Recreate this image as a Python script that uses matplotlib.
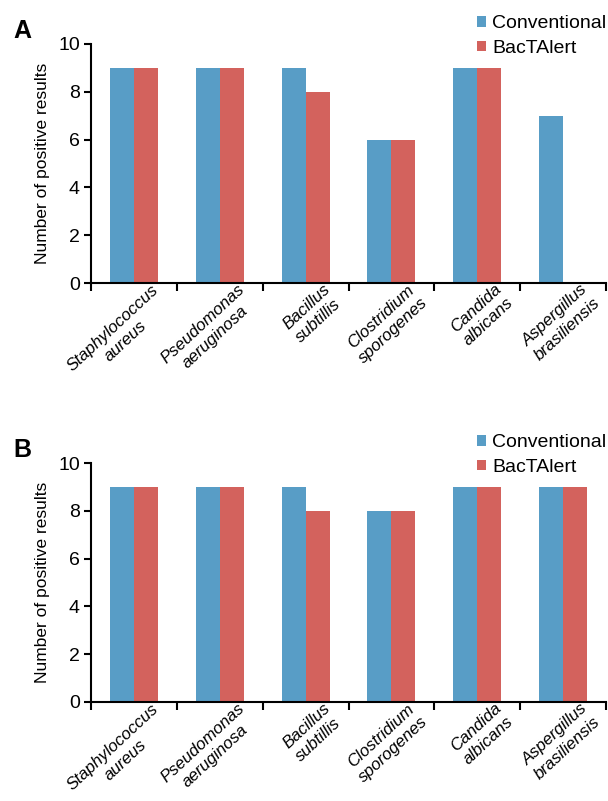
import matplotlib
matplotlib.use("Agg")
import matplotlib.pyplot as plt
import matplotlib.transforms as mtransforms
import numpy as np

plt.rcParams['font.family'] = ['Liberation Sans', 'DejaVu Sans']

# organisms (two-line tick labels)
organisms = ["Staphylococcus\naureus", "Pseudomonas\naeruginosa", "Bacillus\nsubtillis",
             "Clostridium\nsporogenes", "Candida\nalbicans", "Aspergillus\nbrasiliensis"]

# panel A
conv_a = [9, 9, 9, 6, 9, 7]
bact_a = [9, 9, 8, 6, 9, 0]

# panel B
conv_b = [9, 9, 9, 8, 9, 9]
bact_b = [9, 9, 8, 8, 9, 9]

blue = '#589dc6'
red = '#d3625d'

fig = plt.figure(figsize=(6.08, 8.01), dpi=100)
W, H = 608, 801


def panel(top_px, conv, bact, letter):
    left, right, h = 91, 606, 239
    ax = fig.add_axes([left / W, 1 - (top_px + h) / H, (right - left) / W, h / H])
    x = np.arange(len(organisms)) + 0.5
    w = 0.28
    ax.bar(x - w / 2, conv, w, color=blue, label='Conventional')
    ax.bar(x + w / 2, bact, w, color=red, label='BacTAlert')

    ax.set_xlim(0, len(organisms))
    ax.set_ylim(0, 10)
    ax.set_yticks(range(0, 11, 2))
    ax.set_xticks(np.arange(len(organisms) + 1))
    ax.set_xticklabels([])
    ax.tick_params(axis='x', which='minor', length=0, pad=2)
    ax.tick_params(axis='x', which='major', direction='out', length=6, width=1.5)
    ax.tick_params(axis='y', direction='out', length=5, width=1.5, labelsize=14, pad=3)
    ax.set_xticks(x, minor=True)
    ax.set_xticklabels(organisms, minor=True, rotation=43, rotation_mode='anchor',
                       ha='right', va='top', style='italic', fontsize=12.2,
                       multialignment='center', linespacing=1.25)
    # shift labels right like the original
    offset = mtransforms.ScaledTranslation(0.17, 0.04, fig.dpi_scale_trans)
    for lab in ax.get_xticklabels(minor=True):
        lab.set_transform(lab.get_transform() + offset)

    for s in ['top', 'right']:
        ax.spines[s].set_visible(False)
    for s in ['left', 'bottom']:
        ax.spines[s].set_linewidth(1.5)

    ax.set_ylabel('Number of positive results', fontsize=12.5, labelpad=6)

    ax.legend(loc='upper right', bbox_to_anchor=(1.0, 1.12), frameon=False,
              fontsize=14, handlelength=0.45, handleheight=0.45, handletextpad=0.3,
              labelspacing=0.4, borderaxespad=0, borderpad=0)

    fig.text(13 / W, 1 - (top_px - 1) / H, letter, fontsize=18, fontweight='bold',
             ha='left', va='bottom')
    return ax


panel(44, conv_a, bact_a, 'A')
panel(463, conv_b, bact_b, 'B')

fig.savefig('out.png', dpi=100)
